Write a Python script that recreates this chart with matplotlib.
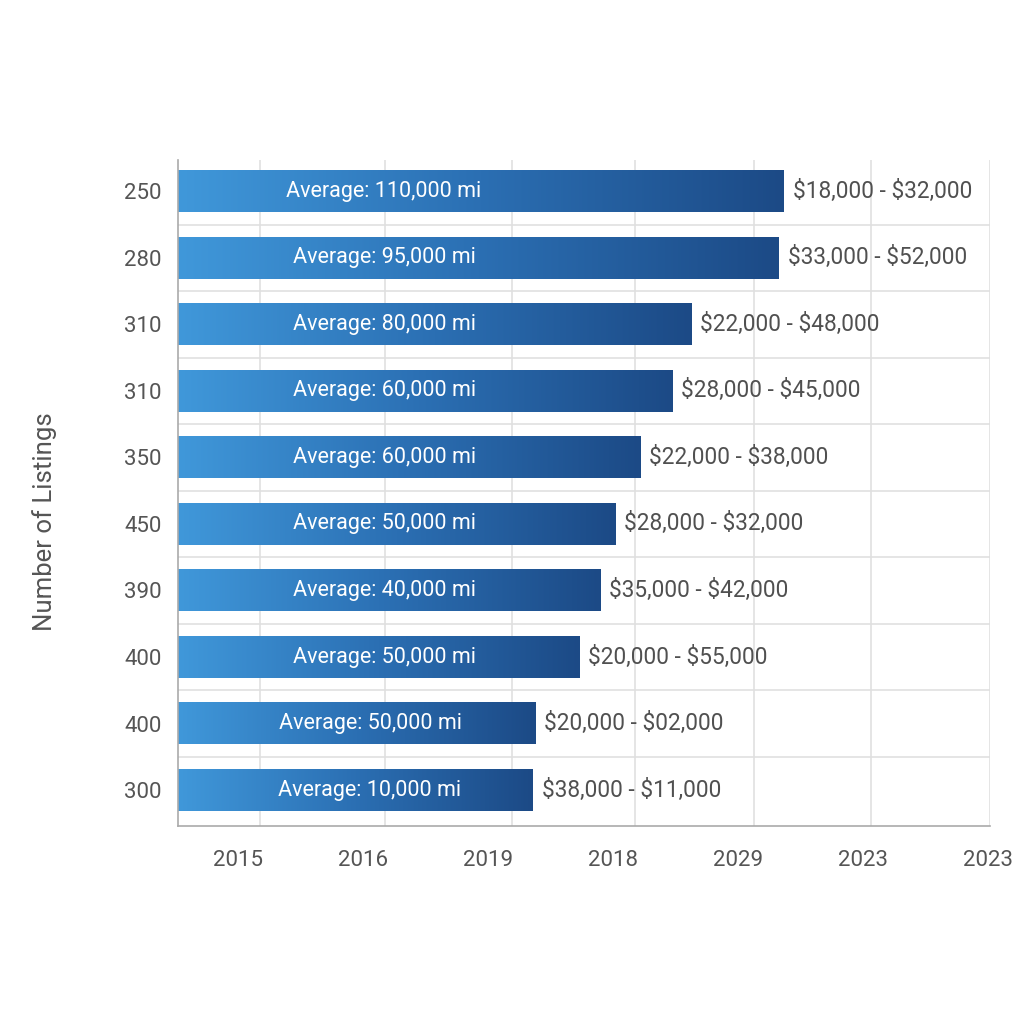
import numpy as np
import matplotlib
matplotlib.use("Agg")
import matplotlib.pyplot as plt
from matplotlib.colors import LinearSegmentedColormap

plt.rcParams['font.family'] = ['Roboto', 'DejaVu Sans']
plt.rcParams['text.parse_math'] = False

# data (top to bottom)
listings = ["250", "280", "310", "310", "350", "450", "390", "400", "400", "300"]
bar_len = [4.85, 4.81, 4.11, 3.96, 3.70, 3.50, 3.38, 3.21, 2.86, 2.84]
avg_miles = ["110,000", "95,000", "80,000", "60,000", "60,000",
             "50,000", "40,000", "50,000", "50,000", "10,000"]
price_ranges = ["$18,000 - $32,000", "$33,000 - $52,000", "$22,000 - $48,000",
                "$28,000 - $45,000", "$22,000 - $38,000", "$28,000 - $32,000",
                "$35,000 - $42,000", "$20,000 - $55,000", "$20,000 - $02,000",
                "$38,000 - $11,000"]
year_labels = ["2015", "2016", "2019", "2018", "2029", "2023", "2023"]

cmap = LinearSegmentedColormap.from_list("bars", ["#4098da", "#2b6fb3", "#1c4a86"])
grad = np.linspace(0, 1, 256).reshape(1, -1)

fig = plt.figure(figsize=(10.24, 10.24), dpi=100)
ax = fig.add_axes([178/1024, 1 - 826/1024, 812/1024, 666/1024])

n = len(listings)
ypos = np.arange(n)
h = 0.63
for i, (v, y) in enumerate(zip(bar_len, ypos)):
    ax.imshow(grad, cmap=cmap, aspect='auto', extent=(0, v, y + h/2, y - h/2),
              zorder=2, interpolation='bicubic')
    ax.text(min(1.65, 0.54 * v), y, f"Average: {avg_miles[i]} mi", color='white',
            ha='center', va='center', fontsize=15.5, zorder=3)
    ax.text(v + 0.07, y, price_ranges[i], color='#505050', ha='left', va='center',
            fontsize=16.3, zorder=3)

ax.set_xlim(0, 6.5)
ax.set_ylim(n - 0.46, -0.47)

# grid lines
for gx in [0.66, 1.66, 2.67, 3.66, 4.61, 5.55, 6.5]:
    ax.axvline(gx, color='#e0e0e0', lw=1.2, zorder=1)
for gy in np.arange(0.5, n - 0.5, 1):
    ax.axhline(gy, color='#e0e0e0', lw=1.2, zorder=1)

ax.set_yticks(ypos)
ax.set_yticklabels(listings, fontsize=16, color='#555555')
ax.set_xticks(np.arange(0.48, 6.6, 1.0))
ax.set_xticklabels(year_labels, fontsize=16, color='#555555')
ax.tick_params(axis='both', length=0)
ax.tick_params(axis='y', pad=12)
ax.tick_params(axis='x', pad=17)

for s in ['top', 'right']:
    ax.spines[s].set_visible(False)
ax.spines['left'].set_color('#aaaaaa')
ax.spines['bottom'].set_color('#aaaaaa')
ax.spines['left'].set_linewidth(1.2)
ax.spines['bottom'].set_linewidth(1.2)

fig.text(45/1024, 1 - 522/1024, "Number of Listings", rotation=90, ha='center',
         va='center', fontsize=18.5, color='#555555')

fig.savefig("out.png", dpi=100, facecolor='white')
